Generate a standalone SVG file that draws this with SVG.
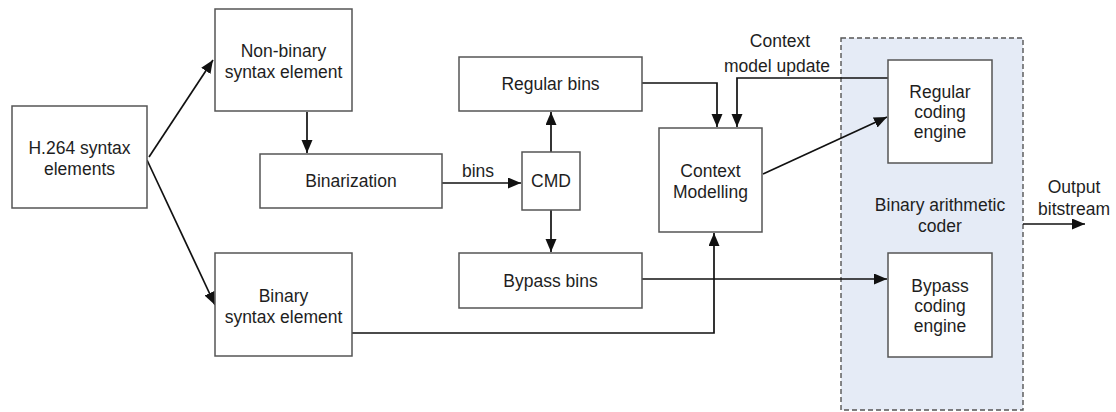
<svg xmlns="http://www.w3.org/2000/svg" width="1116" height="412" viewBox="0 0 1116 412">
  <style>
    .box { fill: #ffffff; stroke: #555555; stroke-width: 1.5; }
    .group { fill: #e5ebf6; stroke: #555555; stroke-width: 1.4; stroke-dasharray: 5 3; }
    .wire { fill: none; stroke: #111111; stroke-width: 1.7; }
    .arrow { marker-end: url(#head); }
    text { font-family: "Liberation Sans", Arial, sans-serif; font-size: 17.5px; fill: #1e1e1e; text-anchor: middle; }
  </style>
  <defs>
    <marker id="head" markerUnits="userSpaceOnUse" markerWidth="14" markerHeight="12" refX="13" refY="5.5" orient="auto">
      <path d="M0,0 L13,5.5 L0,11 z" fill="#111111"/>
    </marker>
  </defs>

  <rect width="1116" height="412" fill="#ffffff"/>

  <!-- binary arithmetic coder container -->
  <g id="bac">
    <rect class="group" x="841" y="38" width="182" height="372"/>
    <text x="940" y="211">Binary arithmetic</text>
    <text x="940" y="232">coder</text>
  </g>

  <!-- connectors -->
  <g id="connectors">
    <line class="wire arrow" x1="149" y1="157" x2="213" y2="60"/>
    <line class="wire arrow" x1="147" y1="160" x2="215" y2="305"/>
    <line class="wire arrow" x1="307" y1="112" x2="307" y2="153"/>
    <line class="wire arrow" x1="442" y1="183" x2="521" y2="183"/>
    <line class="wire arrow" x1="551" y1="152" x2="551" y2="112"/>
    <line class="wire arrow" x1="551" y1="210" x2="551" y2="252"/>
    <path class="wire arrow" d="M642,83 H717 V127"/>
    <path class="wire arrow" d="M888,78 H737 V127"/>
    <line class="wire arrow" x1="763" y1="174" x2="887" y2="117"/>
    <path class="wire arrow" d="M642,279 H887"/>
    <path class="wire arrow" d="M352,333 H714 V233"/>
    <path class="wire arrow" d="M1023,224 H1085"/>
    <text x="478" y="177">bins</text>
    <text x="780" y="47">Context</text>
    <text x="777" y="72">model update</text>
    <text x="1074" y="193">Output</text>
    <text x="1074" y="215">bitstream</text>
  </g>

  <g id="h264">
    <rect class="box" x="12" y="106" width="135" height="102"/>
    <text x="79.5" y="154">H.264 syntax</text>
    <text x="79.5" y="175">elements</text>
  </g>

  <g id="nonbinary">
    <rect class="box" x="215" y="9" width="137" height="102"/>
    <text x="283.5" y="57">Non-binary</text>
    <text x="283.5" y="78">syntax element</text>
  </g>

  <g id="binary">
    <rect class="box" x="215" y="253" width="137" height="103"/>
    <text x="283.5" y="302">Binary</text>
    <text x="283.5" y="323">syntax element</text>
  </g>

  <g id="binarization">
    <rect class="box" x="260" y="154" width="182" height="54"/>
    <text x="351" y="187">Binarization</text>
  </g>

  <g id="cmd">
    <rect class="box" x="522" y="152" width="58" height="58"/>
    <text x="551" y="187">CMD</text>
  </g>

  <g id="regularbins">
    <rect class="box" x="459" y="57" width="183" height="54"/>
    <text x="550.5" y="90">Regular bins</text>
  </g>

  <g id="bypassbins">
    <rect class="box" x="459" y="253" width="183" height="55"/>
    <text x="550.5" y="287">Bypass bins</text>
  </g>

  <g id="contextmodelling">
    <rect class="box" x="659" y="128" width="103" height="104"/>
    <text x="710.5" y="177">Context</text>
    <text x="710.5" y="198">Modelling</text>
  </g>

  <g id="regularengine">
    <rect class="box" x="888" y="60" width="104" height="103"/>
    <text x="940" y="98">Regular</text>
    <text x="940" y="118">coding</text>
    <text x="940" y="138">engine</text>
  </g>

  <g id="bypassengine">
    <rect class="box" x="888" y="253" width="104" height="104"/>
    <text x="940" y="292">Bypass</text>
    <text x="940" y="312">coding</text>
    <text x="940" y="332">engine</text>
  </g>
</svg>
